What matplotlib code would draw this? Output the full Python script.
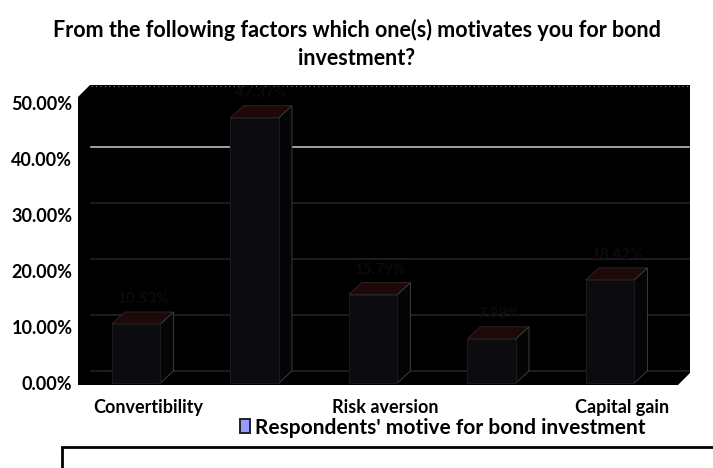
import matplotlib
matplotlib.use("Agg")
import matplotlib.pyplot as plt
from matplotlib.patches import Polygon, Rectangle

categories = ["Convertibility", "", "Risk aversion", "", "Capital gain"]
values = [10.53, 47.37, 15.79, 7.89, 18.42]
yticks = [0, 10, 20, 30, 40, 50]
title = "From the following factors which one(s) motivates you for bond\ninvestment?"
series_name = "Respondents' motive for bond investment"

W, H = 713, 468
plt.rcParams['font.family'] = ['Lato', 'DejaVu Sans']
fig = plt.figure(figsize=(W / 100, H / 100), dpi=100)

def fx(px):
    return px / W

def fy(py):
    return 1 - py / H

# axes geometry in pixels
ax_l, ax_r, ax_t, ax_b = 78, 690, 85, 385
ax = fig.add_axes([fx(ax_l), fy(ax_b), fx(ax_r - ax_l), (ax_b - ax_t) / H])
ax.set_facecolor('black')
pxu = 5.6  # px per percent
y0 = 383
ax.set_ylim(-(ax_b - y0) / pxu, (y0 - ax_t) / pxu)
cx0, cstep = 148, 118.5
ax.set_xlim((ax_l - cx0) / cstep, (ax_r - cx0) / cstep)
for s in ax.spines.values():
    s.set_visible(False)

dx = 13 / cstep
dy = 12 / pxu
xl, xr = ax.get_xlim()

# back-wall gridlines
for t in yticks[1:-1]:
    col = '#bdbdbd' if t == 40 else '#222222'
    ax.plot([xl + dx, xr - 0.01], [t + dy, t + dy], color=col, lw=1.2, zorder=1)
ax.plot([xl + dx, xr - 0.01], [dy, dy], color='#222222', lw=1.2, zorder=1)
# dotted top edge of back wall
ax.plot([xl + dx, xr - 0.02], [53.0, 53.0], color='#888888', lw=0.8, ls=(0, (1, 3)), zorder=1)

# 3D bars
off, bw = -0.1, 0.41
xs = [i + off for i in range(len(values))]
ax.bar(xs, values, width=bw, color='#0c0c10', edgecolor='#1a1a1a', lw=0.8, zorder=4)
for x, v in zip(xs, values):
    x0, x1 = x - bw / 2, x + bw / 2
    ax.add_patch(Polygon([(x0, v), (x1, v), (x1 + dx, v + dy), (x0 + dx, v + dy)],
                         closed=True, facecolor='#1e0808', edgecolor='#2a2a2a', lw=0.6, zorder=3))
    ax.add_patch(Polygon([(x1, 0), (x1, v), (x1 + dx, v + dy), (x1 + dx, dy)],
                         closed=True, facecolor='#050505', edgecolor='#444444', lw=0.6, zorder=3))
    ax.text(x + dx / 2, v + dy + 1.0, f"{v:.2f}%", color='#0b0b0b', fontsize=11,
            fontweight='bold', ha='center', va='bottom', zorder=5)

ax.set_yticks(yticks)
ax.set_yticklabels([f"{t:.2f}%" for t in yticks], fontsize=13, fontweight='bold')
ax.set_xticks(range(len(categories)))
ax.set_xticklabels(categories, fontsize=13, fontweight='bold')
ax.tick_params(axis='both', length=0)
ax.tick_params(axis='y', pad=4)
ax.tick_params(axis='x', pad=10)

# bevel corners (3D box)
fig.patches.append(Polygon([(fx(ax_l), fy(ax_t)), (fx(ax_l + 12), fy(ax_t)), (fx(ax_l), fy(ax_t + 12))],
                           closed=True, transform=fig.transFigure, facecolor='white', edgecolor='none', zorder=5))
fig.patches.append(Polygon([(fx(ax_r), fy(ax_b)), (fx(ax_r), fy(ax_b - 12)), (fx(ax_r - 12), fy(ax_b))],
                           closed=True, transform=fig.transFigure, facecolor='white', edgecolor='none', zorder=5))

# title
fig.text(0.5, fy(44), title, ha='center', va='center', fontsize=15.5, fontweight='bold',
         linespacing=1.4)

# legend
fig.patches.append(Rectangle((fx(240), fy(433)), fx(10), 14 / H, transform=fig.transFigure,
                             facecolor='#9999ff', edgecolor='#222222', lw=1.4))
fig.text(fx(255), fy(428), series_name, ha='left', va='center', fontsize=15, fontweight='bold')

# bottom box
fig.patches.append(Rectangle((fx(62), fy(490)), fx(700), 43 / H, transform=fig.transFigure,
                             facecolor='none', edgecolor='black', lw=2))

fig.savefig('out.png', dpi=100)
